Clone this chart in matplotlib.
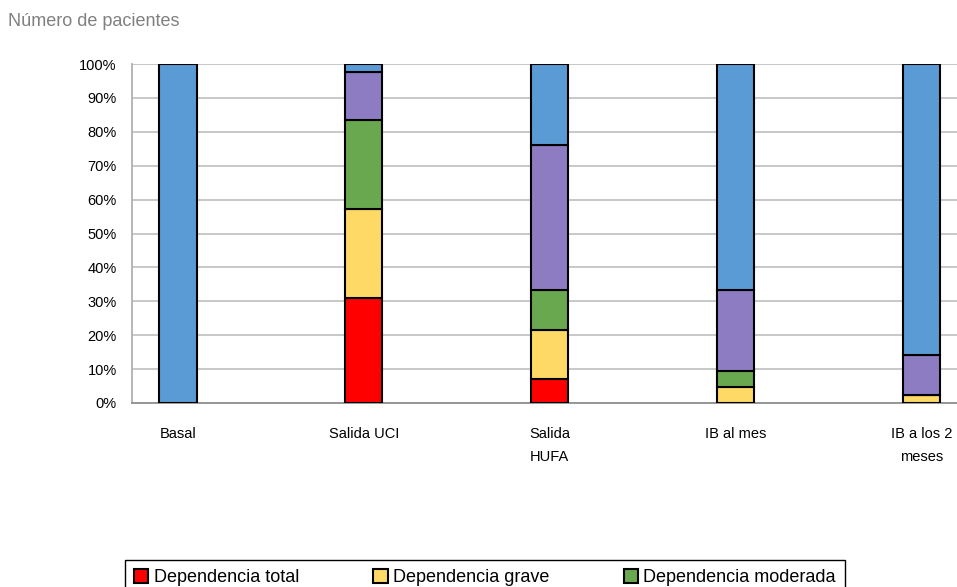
import matplotlib
matplotlib.use("Agg")
import matplotlib.pyplot as plt
import numpy as np

plt.rcParams['font.family'] = ['Liberation Sans', 'DejaVu Sans']

# patients per dependency level at each time point (n = 42)
momentos = ["Basal", "Salida UCI", "Salida\nHUFA", "IB al mes", "IB a los 2\nmeses"]
niveles = ["Dependencia total", "Dependencia grave", "Dependencia moderada",
           "Dependencia leve", "Independencia"]
total = [0, 13, 3, 0, 0]
grave = [0, 11, 6, 2, 1]
moderada = [0, 11, 5, 2, 0]
leve = [0, 6, 18, 10, 5]
independencia = [42, 1, 10, 28, 36]

colores = ["#ff0000", "#ffd966", "#6aa84f", "#8e7cc3", "#5b9bd5"]

series = np.array([total, grave, moderada, leve, independencia], dtype=float)
pct = series / series.sum(axis=0) * 100

fig = plt.figure(figsize=(9.57, 5.87), dpi=100)
ax = fig.add_axes([132 / 957, 1 - 403 / 587, 1 - 132 / 957, (403 - 64) / 587])

x = np.arange(len(momentos))
base = np.zeros(len(momentos))
barras = []
for vals, nombre, color in zip(pct, niveles, colores):
    b = ax.bar(x, vals, width=0.2, bottom=base, color=color, edgecolor="black",
               linewidth=1.5, label=nombre, zorder=3)
    barras.append(b)
    base += vals

ax.set_ylim(0, 100)
ax.set_xlim(-0.247, 4.19)
ax.set_yticks(np.arange(0, 101, 10))
ax.set_yticklabels([f"{v}%" for v in range(0, 101, 10)], fontsize=10.5)
ax.set_xticks(x)
ax.set_xticklabels(momentos, fontsize=10.5, linespacing=1.85, va="top")
ax.tick_params(axis="x", length=0, pad=17)
ax.tick_params(axis="y", length=0, pad=11)
ax.grid(axis="y", color="#c4c4c4", linewidth=1.3, zorder=0)
for lado in ["top", "right"]:
    ax.spines[lado].set_visible(False)
ax.spines["left"].set_color("#b0b0b0")
ax.spines["bottom"].set_color("#909090")
ax.spines["left"].set_linewidth(1.3)
ax.spines["bottom"].set_linewidth(1.3)

fig.text(8 / 957, 1 - 22 / 587, "Número de pacientes", fontsize=13,
         color="#808080", va="center", ha="left")

# legend row along the bottom edge; its lower border runs off the page
fig.legend(barras[:3], niveles[:3], ncol=3,
           loc="upper left", bbox_to_anchor=(125 / 957, 1 - 560 / 587),
           frameon=True, fancybox=False, edgecolor="black", framealpha=1,
           fontsize=13, handlelength=0.8, handleheight=0.8, handletextpad=0.3,
           columnspacing=4.1, borderpad=0.5, borderaxespad=0)

fig.savefig("out.png", dpi=100)
